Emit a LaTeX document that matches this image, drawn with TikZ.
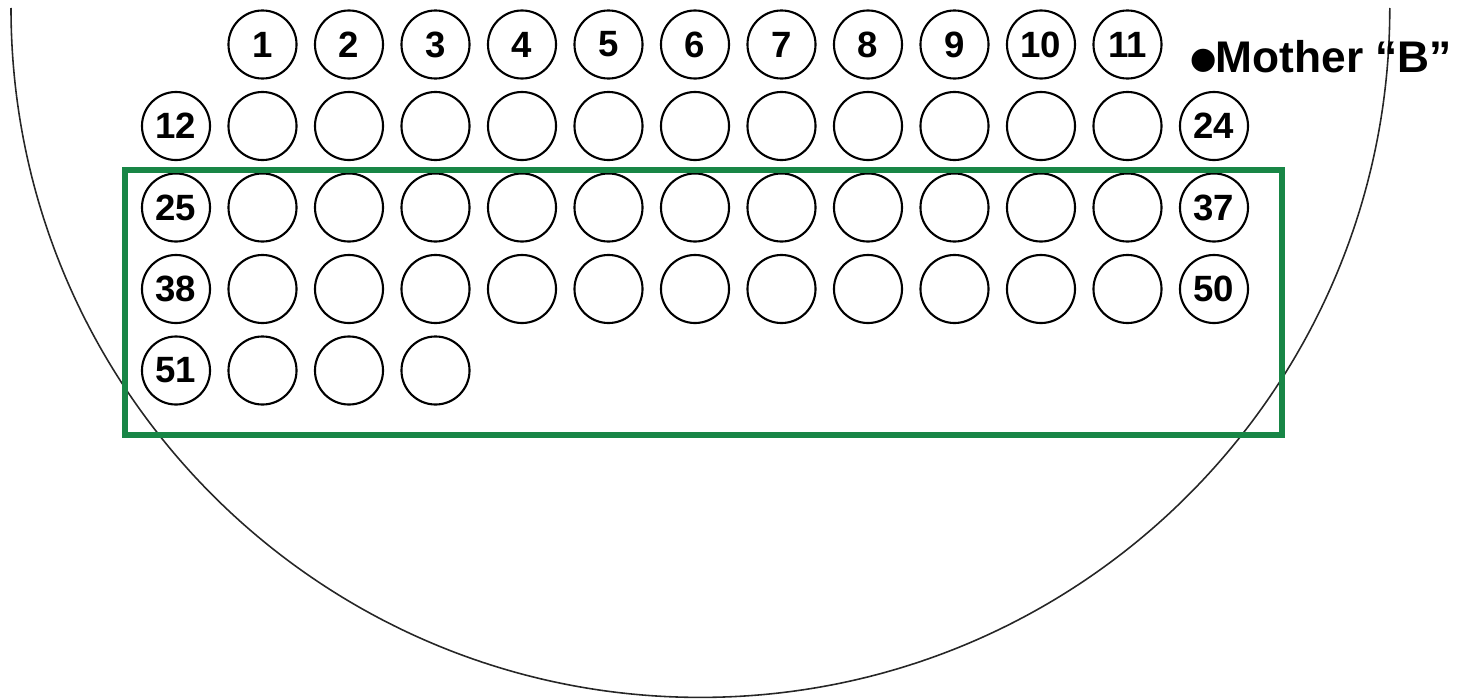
\documentclass[tikz,border=0pt]{standalone}
\usepackage{fontspec}
\setmainfont{Liberation Sans}
\usepackage{tikz}
\usetikzlibrary{positioning}
\usepackage{xcolor}
\definecolor{verdeEscuro}{RGB}{24, 134, 70}
\tikzset{
  poco/.style={
    draw, circle, line width=0.6pt, minimum size=0.68cm, inner sep=0pt,
    font=\fontsize{10.4}{12}\selectfont\bfseries
  },
  quadro/.style={draw=verdeEscuro, line width=1.7pt},
  borda/.style={draw=black!85, line width=0.45pt},
}

\begin{document}
\begin{tikzpicture}[
    x=0.01cm,
    y=-0.01cm,
    rotulo/.style={
        font=\fontsize{12.6}{14}\selectfont\bfseries,
        inner sep=0pt,
        anchor=base west
    }
]

\useasboundingbox (0,0) rectangle (1462,700);

\draw[borda] (11,8) arc[start angle=180, end angle=360, radius=6.89cm];

\foreach \c in {1,...,11}
    \node[poco] (p\c) at (176+86.5*\c,44.5) {\c};

\node[poco] (p12) at (176,126) {12};
\foreach \c in {1,...,11}
    \node[poco] (a\c) at (176+86.5*\c,126) {};
\node[poco] (p24) at (1214,126) {24};

\node[poco] (p25) at (176,207.5) {25};
\foreach \c in {1,...,11}
    \node[poco] (b\c) at (176+86.5*\c,207.5) {};
\node[poco] (p37) at (1214,207.5) {37};

\node[poco] (p38) at (176,289) {38};
\foreach \c in {1,...,11}
    \node[poco] (d\c) at (176+86.5*\c,289) {};
\node[poco] (p50) at (1214,289) {50};

\node[poco] (p51) at (176,370.5) {51};
\foreach \c in {1,...,3}
    \node[poco] (e\c) at (176+86.5*\c,370.5) {};

\draw[quadro] (125,170) rectangle (1282,435);

\node[rotulo] (mae) at (1189,72)
{\raisebox{-4.3pt}{\fontsize{23}{14}\selectfont •}\kern-0.7pt Mother “B”};

\end{tikzpicture}
\end{document}
